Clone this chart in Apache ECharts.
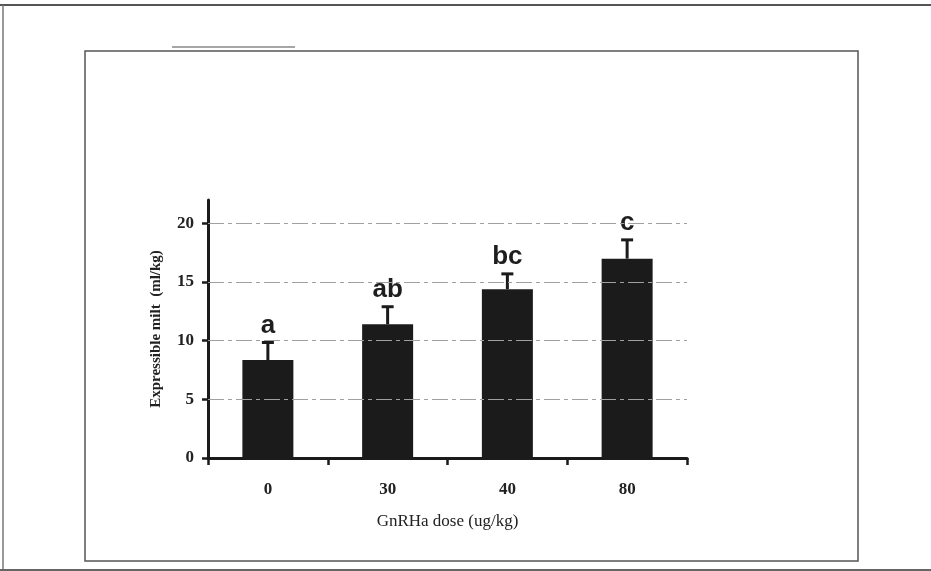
<!DOCTYPE html>
<html>
<head>
<meta charset="utf-8">
<script src="https://cdn.jsdelivr.net/npm/echarts@6/dist/echarts.min.js"></script>
<style>
html,body{margin:0;padding:0;background:#fff;}
#c{width:931px;height:571px;}
</style>
</head>
<body>
<div id="c"></div>
<script>
var categories = ['0', '30', '40', '80'];
var means = [8.35, 11.4, 14.4, 17.0];
var errors = [1.5, 1.5, 1.3, 1.6];
var letters = ['a', 'ab', 'bc', 'c'];
var yTicks = [0, 5, 10, 15, 20];
var xName = 'GnRHa dose (ug/kg)';
var yName = 'Expressible milt  (ml/kg)';

var chart = echarts.init(document.getElementById('c'), null, {renderer: 'canvas'});
var dark = '#1b1b1b';
var serif = '"Liberation Serif", "DejaVu Serif", serif';

var errData = means.map(function (m, i) { return [i, m, m + errors[i], letters[i]]; });

var option = {
  backgroundColor: '#fff',
  animation: false,
  graphic: [
    {type: 'line', shape: {x1: 0, y1: 5, x2: 931, y2: 5}, style: {stroke: '#555', lineWidth: 2}},
    {type: 'line', shape: {x1: 3, y1: 5, x2: 3, y2: 571}, style: {stroke: '#777', lineWidth: 1.5}},
    {type: 'line', shape: {x1: 0, y1: 570, x2: 931, y2: 570}, style: {stroke: '#666', lineWidth: 2}},
    {type: 'rect', shape: {x: 85, y: 51, width: 773, height: 510}, style: {fill: 'none', stroke: '#555', lineWidth: 1.5}},
    {type: 'line', shape: {x1: 172, y1: 47, x2: 295, y2: 47}, style: {stroke: '#888', lineWidth: 1.5}}
  ],
  grid: {left: 208, right: 244, top: 200, bottom: 113},
  xAxis: {
    type: 'category',
    data: categories,
    boundaryGap: true,
    axisLine: {lineStyle: {color: dark, width: 3}},
    axisTick: {show: true, length: 7, lineStyle: {color: dark, width: 2.5}},
    axisLabel: {color: '#222', fontFamily: serif, fontWeight: 'bold', fontSize: 17, margin: 23},
    name: xName,
    nameLocation: 'middle',
    nameGap: 55,
    nameTextStyle: {color: '#222', fontFamily: serif, fontSize: 17}
  },
  yAxis: {
    type: 'value',
    min: 0,
    max: 22,
    interval: 5,
    axisLine: {show: true, lineStyle: {color: dark, width: 3}},
    axisTick: {show: true, length: 6, customValues: yTicks, lineStyle: {color: dark, width: 2.5}},
    axisLabel: {customValues: yTicks, color: '#222', fontFamily: serif, fontWeight: 'bold', fontSize: 17, margin: 14},
    splitLine: {show: false},
    name: yName,
    nameLocation: 'middle',
    nameRotate: 90,
    nameGap: 44,
    nameTextStyle: {color: '#222', fontFamily: serif, fontWeight: 'bold', fontSize: 15}
  },
  series: [
    {
      type: 'bar',
      data: means,
      barWidth: 51,
      itemStyle: {color: dark},
      z: 3,
      markLine: {
        silent: true,
        symbol: 'none',
        label: {show: false},
        lineStyle: {color: '#a0a0a0', width: 1, type: [16, 4, 4, 4]},
        data: yTicks.filter(function (v) { return v > 0; }).map(function (v) { return {yAxis: v}; })
      }
    },
    {
      type: 'custom',
      data: errData,
      z: 4,
      renderItem: function (params, api) {
        var base = api.coord([api.value(0), api.value(1)]);
        var top = api.coord([api.value(0), api.value(2)]);
        var cap = 6;
        return {
          type: 'group',
          children: [
            {type: 'line', shape: {x1: top[0], y1: top[1], x2: base[0], y2: base[1]}, style: {stroke: dark, lineWidth: 3}},
            {type: 'line', shape: {x1: top[0] - cap, y1: top[1], x2: top[0] + cap, y2: top[1]}, style: {stroke: dark, lineWidth: 3}},
            {type: 'text', x: top[0], y: top[1] - 4, style: {
              text: letters[params.dataIndex], fill: '#1e1e1e',
              font: 'bold 26px "Liberation Sans", Arial, sans-serif',
              align: 'center', verticalAlign: 'bottom'
            }}
          ]
        };
      }
    }
  ]
};
chart.setOption(option);
</script>
</body>
</html>
